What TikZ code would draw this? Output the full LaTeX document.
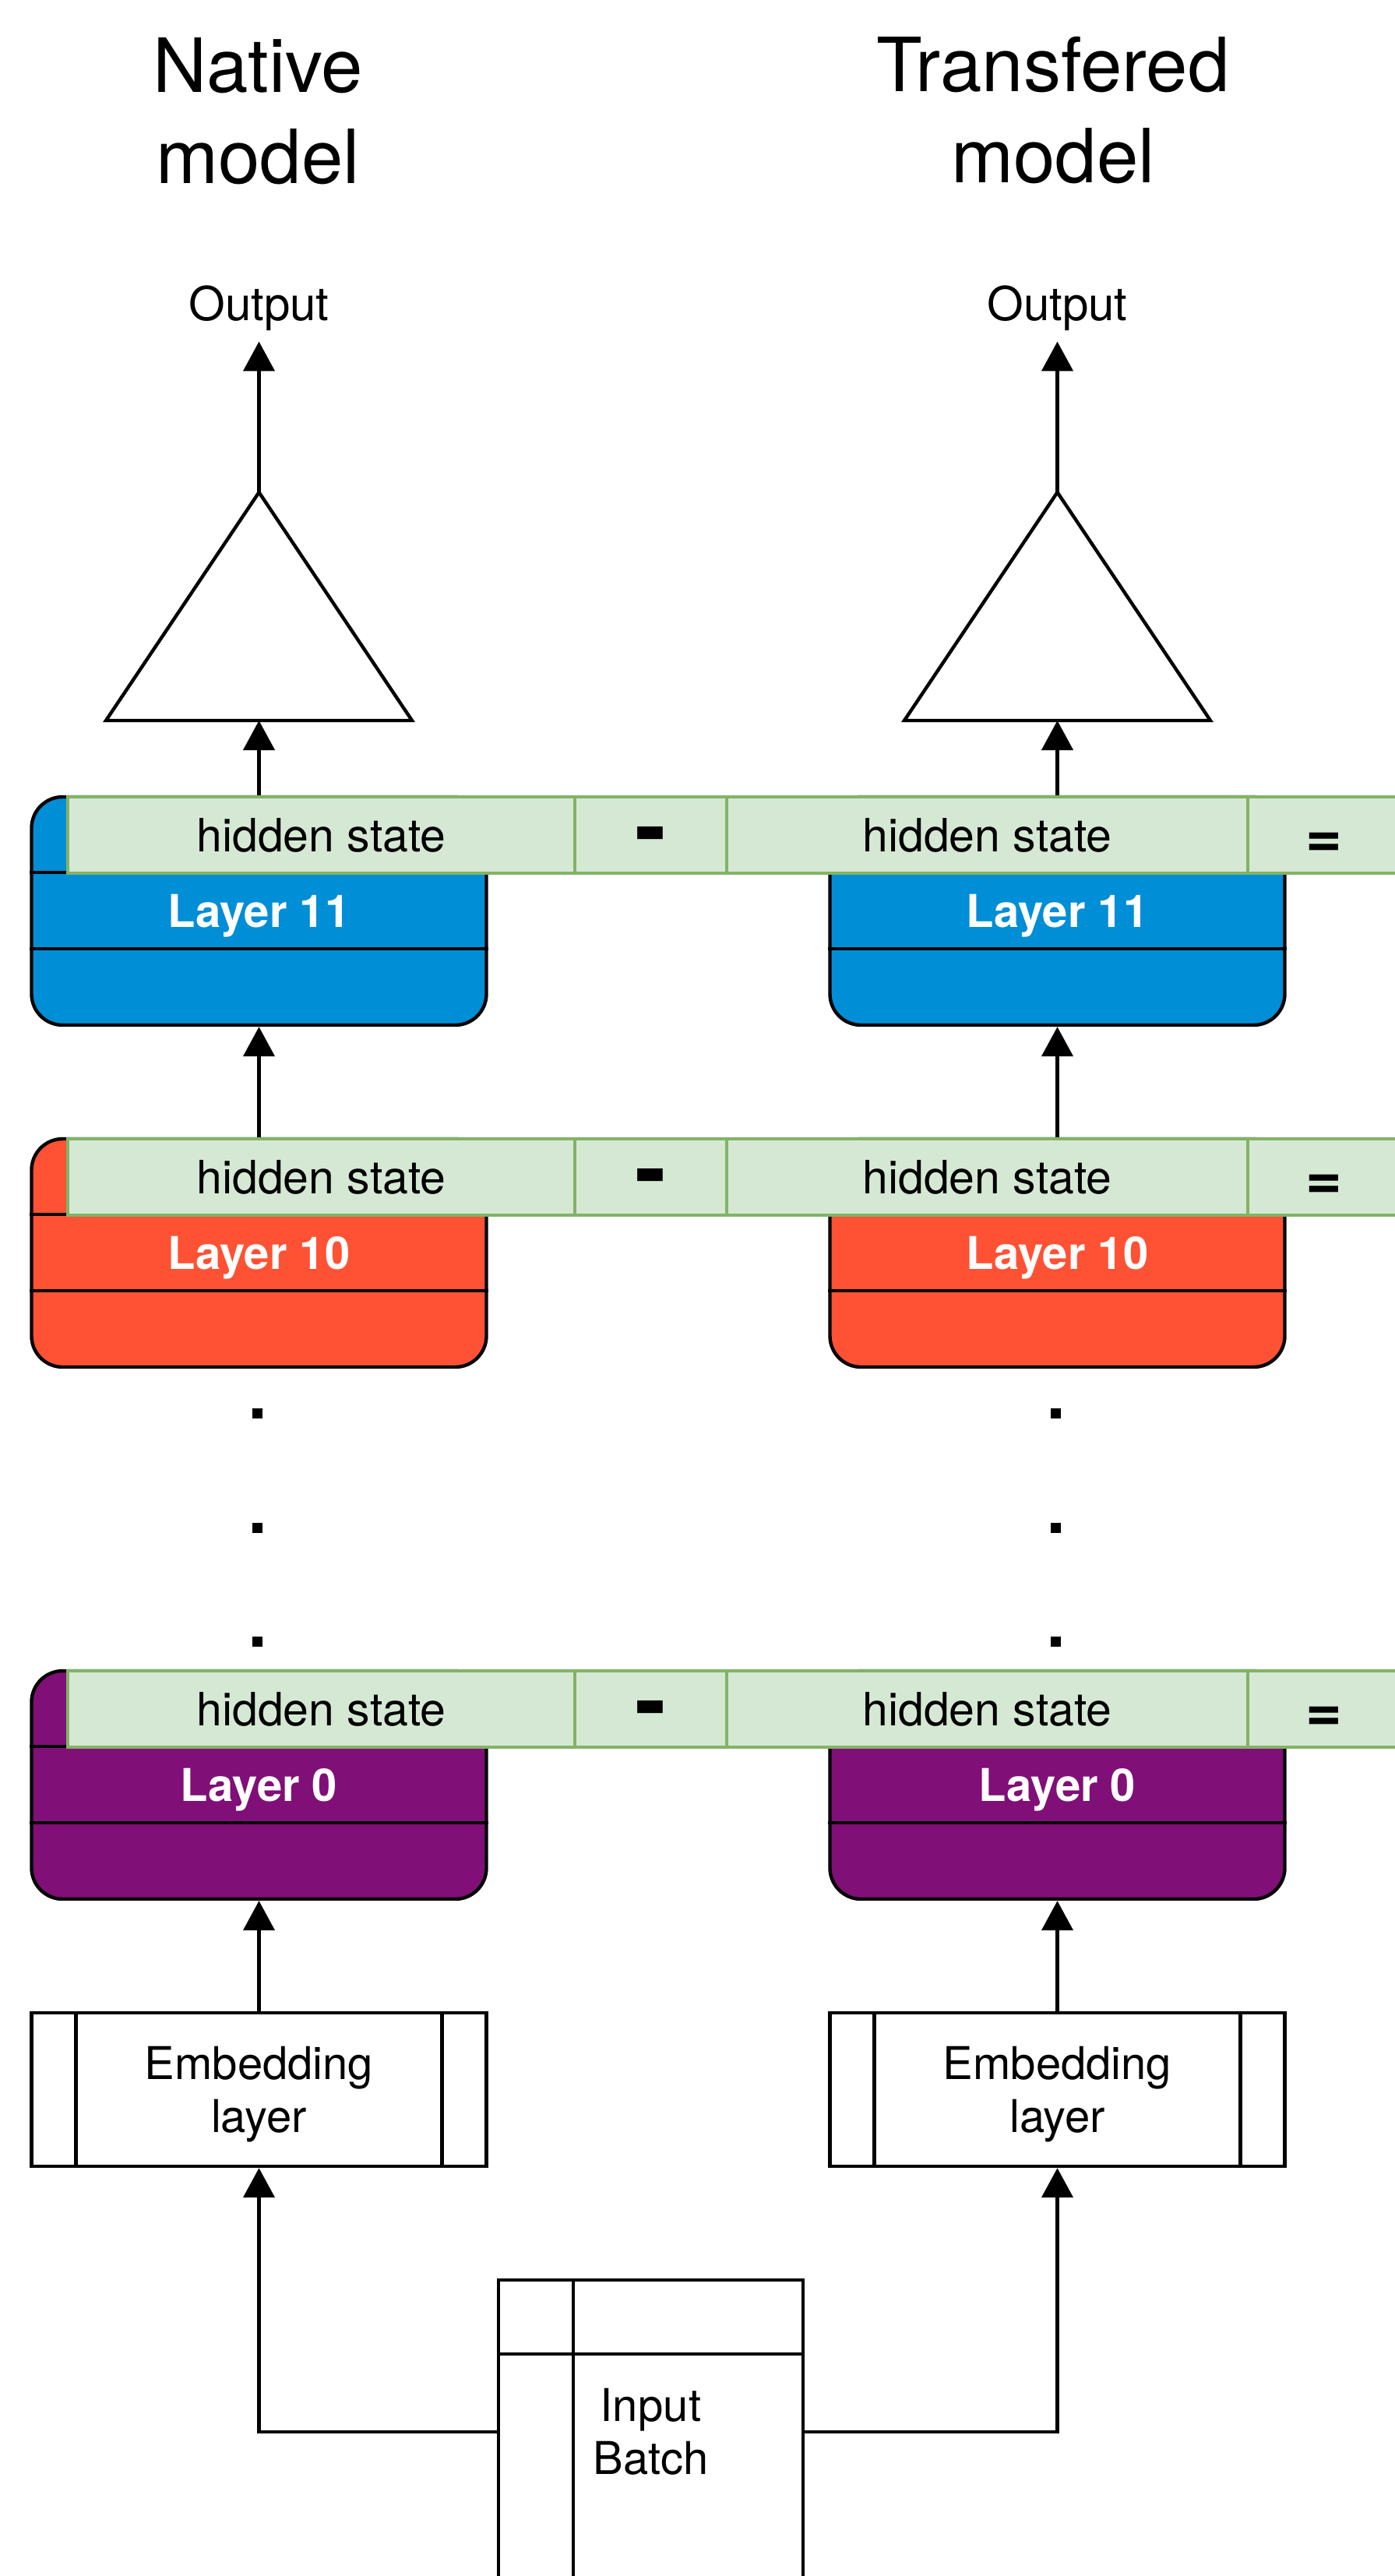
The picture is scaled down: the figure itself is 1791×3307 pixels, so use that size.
\documentclass[tikz,border=0pt]{standalone}
\usepackage{fontspec}
\setmainfont{TeX Gyre Heros}
\usetikzlibrary{arrows.meta, positioning, calc}
\definecolor{layblue}{RGB}{0,142,214}
\definecolor{layred}{RGB}{255,81,51}
\definecolor{laypurple}{RGB}{128,15,119}
\definecolor{hsfill}{RGB}{213,232,212}
\definecolor{hsline}{RGB}{130,179,102}

\tikzset{
  box/.style={draw=black, line width=2.2pt},
  laybox/.style={box, rounded corners=20pt, minimum width=292pt, minimum height=146.5pt,
    inner sep=0pt, text=white, font=\fontsize{29}{35}\selectfont\bfseries, text depth=0pt},
  hscell/.style={draw=hsline, fill=hsfill, line width=2pt, minimum height=49pt,
    inner sep=0pt, outer sep=0pt, font=\fontsize{29.5}{35}\selectfont},
  lbl/.style={font=\fontsize{29}{34}\selectfont, align=center, inner sep=0pt},
  title/.style={font=\fontsize{48}{58.5}\selectfont, align=center, inner sep=0pt, anchor=north},
  arr/.style={line width=2.2pt, -{Triangle[width=20pt,length=19pt]}},
}

\begin{document}
\begin{tikzpicture}[x=0.5pt, y=-0.5pt]
  \useasboundingbox (0,0) rectangle (1791,3307);

  % titles
  \node[title] (ttlL) at (331,48) {Native\\model};
  \node[title] (ttlR) at (1352,47) {Transfered\\model};

  % both models
  \foreach \cx/\s in {332.5/L, 1357.5/R} {
    \node[lbl, anchor=base, inner sep=7pt, font=\fontsize{30}{36}\selectfont] (out\s) at (\cx,411) {Output};
    \draw[box] (\cx,632) coordinate (apex\s) -- (\cx+196.5,925) -- (\cx-196.5,925) -- cycle;
    \coordinate (base\s) at (\cx,925);
    \draw[arr] (apex\s) -- (out\s.south);

    \foreach \ty/\n/\col in {1023/11/layblue, 1462/10/layred, 2145/0/laypurple} {
      \node[laybox, fill=\col] (lay\n\s) at (\cx,\ty+146.5) {Layer \n};
      \draw[box] ($(lay\n\s.west)+(0,-49.5)$) -- ($(lay\n\s.east)+(0,-49.5)$);
      \draw[box] ($(lay\n\s.west)+(0,48.5)$) -- ($(lay\n\s.east)+(0,48.5)$);
    }

    % dots between layer 10 and layer 0
    \foreach \y in {1814.5, 1961.5, 2107.5}
      \fill (\cx-8.5,\y-6.5) rectangle (\cx+4.5,\y+6.5);

    \node[box, lbl, minimum width=292pt, minimum height=98.5pt, font=\fontsize{29}{34}\selectfont,
      text depth=0pt] (emb\s) at (\cx,2682.5) {Embedding\\layer};
    \draw[box] ($(emb\s.north)+(-235,0)$) -- ($(emb\s.south)+(-235,0)$);
    \draw[box] ($(emb\s.north)+(235,0)$) -- ($(emb\s.south)+(235,0)$);
  }

  % hidden state bars
  \foreach \ty/\n in {1023/11, 1462/10, 2145/0} {
    \node[hscell, minimum width=325.5pt] (hsL\n) at (412.5,\ty+49) {hidden state};
    \node[hscell, minimum width=97.5pt, right=0pt of hsL\n, font=\fontsize{60}{60}\selectfont\bfseries,
      text height=30pt, text depth=0pt] (min\n) {-};
    \node[hscell, minimum width=334.5pt, right=0pt of min\n] (hsR\n) {hidden state};
    \node[hscell, minimum width=97.5pt, right=0pt of hsR\n, font=\fontsize{40}{40}\selectfont\bfseries,
      text height=28.5pt, text depth=0pt] (eq\n) {=};
  }

  % input batch
  \node[box, lbl, minimum width=195.5pt, minimum height=195pt] (inb) at (835.5,3122) {Input\\Batch};
  \draw[box] ($(inb.north west)+(98,0)$) -- ($(inb.south west)+(98,0)$);
  \draw[box] ($(inb.north west)+(0,97)$) -- ($(inb.north east)+(0,97)$);

  % connectors
  \foreach \s in {L, R} {
    \draw[arr] (lay11\s.north) -- (base\s);
    \draw[arr] (lay10\s.north) -- (lay11\s.south);
    \draw[arr] (emb\s.north) -- (lay0\s.south);
  }
  \draw[arr] (inb.west) -| (embL.south);
  \draw[arr] (inb.east) -| (embR.south);
\end{tikzpicture}
\end{document}
